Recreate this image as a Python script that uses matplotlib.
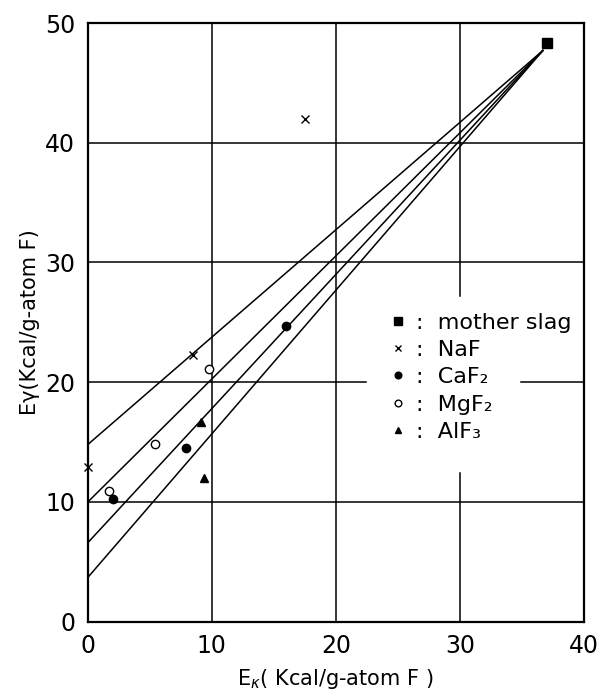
from matplotlib import pyplot as plt

# Daten
mother_x = [37.0]
mother_y = [48.3]
naf_x = [0.0, 8.5, 17.5]
naf_y = [12.9, 22.3, 42.0]
caf2_x = [2.05, 7.9, 16.0]
caf2_y = [10.25, 14.5, 24.7]
mgf2_x = [1.67, 5.45, 9.8]
mgf2_y = [10.9, 14.85, 21.1]
alf3_x = [9.1, 9.4]
alf3_y = [16.7, 12.0]

# Geraden: Achsenabschnitt bei x=0, alle laufen zum Punkt (conv_x, conv_y)
intercepts = [14.8, 10.0, 6.6, 3.7]
conv_x = 36.7
conv_y = 47.7

xticks = [0, 10, 20, 30, 40]
yticks = [0, 10, 20, 30, 40, 50]

fig = plt.figure(figsize=(6.1, 6.97), dpi=100)
ax = fig.add_axes([0.144, 0.108, 0.813, 0.859])
ax.set_xlim(0, 40)
ax.set_ylim(0, 50)

# Gitterlinien (mit Luecken um die Legende wie im Original)
lw_grid = 1.1
for x in [10, 20]:
	ax.axvline(x, color='black', lw=lw_grid, zorder=1)
ax.axvline(30, ymin=27.2 / 50, ymax=1, color='black', lw=lw_grid, zorder=1)
ax.axvline(30, ymin=0, ymax=12.4 / 50, color='black', lw=lw_grid, zorder=1)
for y in [10, 30, 40]:
	ax.axhline(y, color='black', lw=lw_grid, zorder=1)
ax.axhline(20, xmin=0, xmax=22.4 / 40, color='black', lw=lw_grid, zorder=1)
ax.axhline(20, xmin=34.9 / 40, xmax=1, color='black', lw=lw_grid, zorder=1)

for b in intercepts:
	ax.plot([0, conv_x], [b, conv_y], color='black', lw=1.1, zorder=2)

ax.plot(mother_x, mother_y, 's', color='black', ms=7, ls='none', clip_on=False,
	zorder=3, label=':  mother slag')
ax.plot(naf_x, naf_y, 'x', color='black', ms=5.5, mew=1.0, ls='none', clip_on=False,
	zorder=3, label=':  NaF')
ax.plot(caf2_x, caf2_y, 'o', color='black', ms=6, ls='none', clip_on=False,
	zorder=3, label=':  CaF₂')
ax.plot(mgf2_x, mgf2_y, 'o', mfc='white', mec='black', ms=6, mew=1.0, ls='none',
	clip_on=False, zorder=3, label=':  MgF₂')
ax.plot(alf3_x, alf3_y, '^', color='black', ms=6, ls='none', clip_on=False,
	zorder=3, label=':  AlF₃')

leg = ax.legend(loc='upper left', bbox_to_anchor=(0.59, 0.535), frameon=False,
	fontsize=16, handlelength=0.6, handletextpad=0.5, labelspacing=0.33,
	borderpad=0.0, markerscale=0.8)

ax.set_xticks(xticks)
ax.set_yticks(yticks)
ax.tick_params(length=0, labelsize=17, pad=9)
for s in ax.spines.values():
	s.set_linewidth(1.6)

ax.set_xlabel('E$_\\kappa$( Kcal/g-atom F )', fontsize=15, labelpad=6)
ax.set_ylabel('Eγ(Kcal/g-atom F)', fontsize=15, labelpad=4)

plt.savefig('out.png', dpi=100)
